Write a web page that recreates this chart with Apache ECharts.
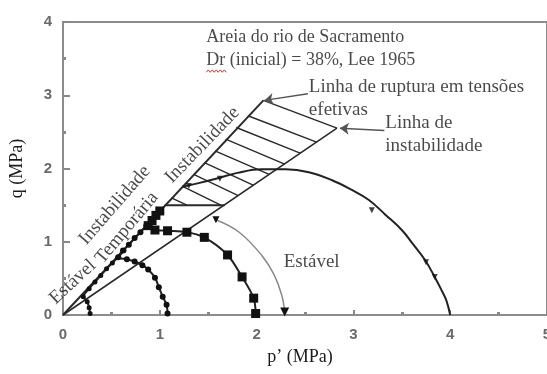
<!DOCTYPE html>
<html>
<head>
<meta charset="utf-8">
<script src="https://cdn.jsdelivr.net/npm/echarts@6/dist/echarts.min.js"></script>
<style>
  html, body { margin: 0; padding: 0; background: #fff; overflow: hidden; }
  #chart { width: 547px; height: 374px; }
</style>
</head>
<body>
<div id="chart"></div>
<script>
// Stress paths (p', q) in MPa, Sacramento River sand, Dr = 38 %
const pathA = [[0.28, 0.02], [0.27, 0.10], [0.25, 0.18], [0.21, 0.25], [0.27, 0.36], [0.33, 0.45], [0.39, 0.54], [0.45, 0.63], [0.51, 0.71], [0.57, 0.79], [0.63, 0.88]];
const pathB = [[1.08, 0.02], [1.07, 0.14], [1.03, 0.25], [0.99, 0.38], [0.95, 0.51], [0.88, 0.62], [0.82, 0.68], [0.74, 0.73], [0.66, 0.76], [0.57, 0.79], [0.62, 0.88], [0.68, 0.96], [0.74, 1.05], [0.80, 1.13], [0.86, 1.22]];
const pathC = [[1.99, 0.02], [1.97, 0.23], [1.85, 0.52], [1.70, 0.82], [1.46, 1.06], [1.28, 1.13], [1.08, 1.15], [0.95, 1.16], [0.88, 1.22], [0.92, 1.29], [0.96, 1.36], [1.00, 1.42]];
const pathD = [[4.00, 0.00], [3.96, 0.20], [3.91, 0.34], [3.84, 0.52], [3.74, 0.75], [3.62, 0.96], [3.50, 1.16], [3.33, 1.37], [3.16, 1.57], [2.98, 1.71], [2.78, 1.84], [2.54, 1.95], [2.30, 1.99], [2.05, 1.99], [1.80, 1.94], [1.61, 1.87], [1.40, 1.80], [1.23, 1.75]];
const pathDMarks = [[3.19, 1.43], [3.75, 0.72], [3.84, 0.52], [1.62, 1.86], [1.30, 1.76]];

// Envelope lines
const failureLine = [[0, 0], [2.07, 2.93]];
const instabilityLine = [[0, 0], [2.83, 2.55]];
const hatchBase = [[1.05, 1.5], [1.67, 1.5]];
const hatchLines = [
  [[2.07, 2.93], [2.83, 2.55]],
  [[1.91, 2.72], [2.62, 2.36]],
  [[1.79, 2.56], [2.45, 2.21]],
  [[1.68, 2.40], [2.29, 2.06]],
  [[1.57, 2.24], [2.13, 1.92]],
  [[1.46, 2.08], [1.97, 1.77]],
  [[1.35, 1.92], [1.81, 1.63]],
  [[1.23, 1.76], [1.63, 1.50]],
  [[1.12, 1.60], [1.28, 1.50]]
];
const stableArrow = [[1.58, 1.30], [1.82, 1.13], [2.05, 0.82], [2.18, 0.55], [2.26, 0.27], [2.29, 0.04]];
const ruptureArrow = [[2.53, 3.02], [2.08, 2.93]];
const instabArrow = [[3.32, 2.52], [2.86, 2.55]];

// Annotation texts
const titleLines = ['Areia do rio de Sacramento', 'Dr (inicial) = 38%, Lee 1965'];
const ruptureText = ['Linha de ruptura em tensões', 'efetivas'];
const instabText = ['Linha de', 'instabilidade'];
const stableText = 'Estável';
const zoneTexts = ['Estável', 'Instabilidade', 'Temporária', 'Instabilidade'];

const serif = '"Liberation Serif", "DejaVu Serif", serif';
const sans = '"Liberation Sans", Arial, sans-serif';
const ink = '#1a1a1a';

function txt(value, text, opts) {
  return {
    value: value,
    symbolSize: 0,
    label: Object.assign({
      show: true, formatter: text, position: 'right', distance: 0,
      fontFamily: serif, fontSize: 19, color: ink
    }, opts || {})
  };
}
const rotated = deg => ({ position: 'inside', rotate: deg, align: 'center', verticalAlign: 'middle' });

const chart = echarts.init(document.getElementById('chart'), null, { renderer: 'canvas' });

const lineStyle = (c, w) => ({ color: c, width: w });

chart.setOption({
  animation: false,
  backgroundColor: '#fff',
  grid: {
    left: 63, top: 22, width: 484, height: 293,
    show: true, borderColor: '#8c8c8c', borderWidth: 2,
    containLabel: false, outerBoundsMode: 'none'
  },
  xAxis: {
    type: 'value', min: 0, max: 5, interval: 1,
    name: 'p’ (MPa)', nameLocation: 'middle', nameGap: 33,
    nameTextStyle: { fontFamily: serif, fontSize: 18, color: ink, padding: [0, 10, 0, 0] },
    axisLine: { lineStyle: { color: '#8c8c8c', width: 2 } },
    axisTick: { inside: true, length: 5, lineStyle: { color: '#888', width: 2 } },
    minorTick: { show: true, splitNumber: 2, length: 3, lineStyle: { color: '#888', width: 3 } },
    axisLabel: { margin: 12, hideOverlap: false, fontFamily: sans, fontWeight: 'bold', fontSize: 15, color: '#6a6a6a' },
    splitLine: { show: false }
  },
  yAxis: {
    type: 'value', min: 0, max: 4, interval: 1,
    name: 'q (MPa)', nameLocation: 'middle', nameGap: 37, nameRotate: 90,
    nameTextStyle: { fontFamily: serif, fontSize: 18, color: ink },
    axisLine: { lineStyle: { color: '#8c8c8c', width: 2 } },
    axisTick: { inside: true, length: 7, lineStyle: { color: '#888', width: 2 } },
    minorTick: { show: true, splitNumber: 2, length: 3, lineStyle: { color: '#888', width: 3 } },
    axisLabel: { margin: 11, fontFamily: sans, fontWeight: 'bold', fontSize: 15, color: '#6a6a6a' },
    splitLine: { show: false }
  },
  series: [
    { type: 'line', data: failureLine, symbol: 'none', lineStyle: lineStyle('#2a2a2a', 2), z: 3 },
    { type: 'line', data: instabilityLine, symbol: 'none', lineStyle: lineStyle('#2a2a2a', 1.6), z: 3 },
    { type: 'line', data: hatchBase, symbol: 'none', lineStyle: lineStyle('#2a2a2a', 2), z: 3 },
    {
      type: 'lines', coordinateSystem: 'cartesian2d', z: 3,
      lineStyle: { color: '#2a2a2a', width: 1.4, opacity: 1 },
      data: hatchLines.map(s => ({ coords: s }))
    },
    { type: 'line', data: pathD, smooth: 0.4, symbol: 'none', lineStyle: lineStyle('#222', 2), z: 4 },
    { type: 'scatter', data: pathDMarks, symbol: 'triangle', symbolSize: 6, symbolRotate: 180, itemStyle: { color: '#111' }, z: 5 },
    { type: 'line', data: pathC, smooth: 0.3, symbol: 'rect', symbolSize: 9, itemStyle: { color: '#111' }, lineStyle: lineStyle('#222', 2), z: 5 },
    { type: 'line', data: pathB, smooth: 0.3, symbol: 'circle', symbolSize: 6, itemStyle: { color: '#111' }, lineStyle: lineStyle('#222', 2), z: 5 },
    { type: 'line', data: pathA, smooth: 0.3, symbol: 'circle', symbolSize: 5, itemStyle: { color: '#111' }, lineStyle: lineStyle('#222', 2), z: 5 },
    {
      type: 'line', smooth: 0.4, z: 4,
      lineStyle: lineStyle('#8a8a8a', 1.5), itemStyle: { color: '#111' },
      data: stableArrow.map((v, i) => ({
        value: v,
        symbol: (i === 0 || i === stableArrow.length - 1) ? 'triangle' : 'none',
        symbolSize: i === 0 ? 7 : 9,
        symbolRotate: 180
      }))
    },
    {
      type: 'lines', coordinateSystem: 'cartesian2d', z: 5,
      symbol: ['none', 'arrow'], symbolSize: 9,
      lineStyle: { color: '#555', width: 1.5, opacity: 1 },
      data: [{ coords: ruptureArrow }, { coords: instabArrow }]
    },
    {
      type: 'scatter', z: 6, silent: true,
      data: [
        txt([1.48, 3.79], titleLines[0], { fontSize: 18 }),
        txt([1.48, 3.48], titleLines[1], { fontSize: 18 }),
        txt([2.54, 3.11], ruptureText[0]),
        txt([2.54, 2.80], ruptureText[1]),
        txt([3.33, 2.62], instabText[0]),
        txt([3.33, 2.31], instabText[1]),
        txt([2.28, 0.72], stableText),
        txt([0.10, 0.45], zoneTexts[0], rotated(43)),
        txt([0.535, 1.50], zoneTexts[1], rotated(49)),
        txt([0.66, 1.19], zoneTexts[2], rotated(50)),
        txt([1.44, 2.32], zoneTexts[3], rotated(46))
      ]
    }
  ]
});

// Red spell-check squiggle under "Dr"
const anchor = chart.convertToPixel({ gridIndex: 0 }, [1.48, 3.48]);
const sq = [];
for (let i = 0; i <= 10; i++) sq.push([anchor[0] + i * 2, anchor[1] + 11 + (i % 2 ? -1.2 : 1.2)]);
chart.setOption({
  graphic: [{ type: 'polyline', shape: { points: sq }, style: { stroke: '#e03030', lineWidth: 1, fill: null }, z: 10 }]
});
</script>
</body>
</html>
